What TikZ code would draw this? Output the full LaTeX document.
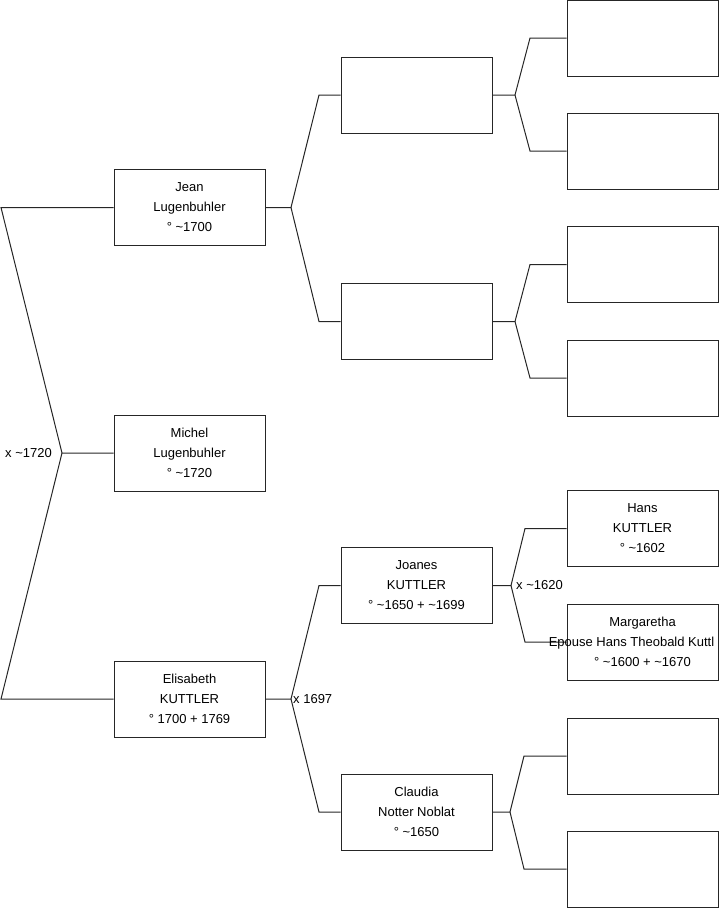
\documentclass[tikz,border=0pt]{standalone}
\usepackage{fontspec}
\setmainfont{Liberation Sans}
\usetikzlibrary{backgrounds}
\begin{document}
\begin{tikzpicture}[x=1pt, y=-1pt, line width=1pt,
		personne/.style={draw=black!85, fill=white, minimum width=151, minimum height=76, inner sep=0, align=center, font=\fontsize{13}{20}\selectfont},
		lien/.style={draw=black!85, line width=1pt},
		union/.style={inner sep=0, font=\fontsize{13}{20}\selectfont}]
	\clip (0,0) rectangle (719,908);
	
	% ================= personnes =================
	\node[personne] (jean) at (189.5,207.5) {Jean\\Lugenbuhler\\° \textasciitilde1700};
	\node[personne] (michel) at (189.5,453) {Michel\\Lugenbuhler\\° \textasciitilde1720};
	\node[personne] (elisabeth) at (189.5,699) {Elisabeth\\KUTTLER\\° 1700 + 1769};
	
	\node[personne] (p1) at (416.5,95) {};
	\node[personne] (p2) at (416.5,321.5) {};
	\node[personne] (joanes) at (416.5,585.5) {Joanes\\KUTTLER\\° \textasciitilde1650 + \textasciitilde1699};
	\node[personne] (claudia) at (416.5,812) {Claudia\\Notter Noblat\\° \textasciitilde1650};
	
	\node[personne] (g1) at (642.5,38) {};
	\node[personne] (g2) at (642.5,151) {};
	\node[personne] (g3) at (642.5,264.5) {};
	\node[personne] (g4) at (642.5,378) {};
	\node[personne] (hans) at (642.5,528.5) {Hans\\KUTTLER\\° \textasciitilde1602};
	% le texte du milieu deborde du cadre
	\node[personne] (margaretha) at (642.5,642) {Margaretha\\\makebox[0pt]{Epouse Hans Theobald Kuttl\hspace*{22pt}}\\° \textasciitilde1600 + \textasciitilde1670};
	\node[personne] (c1) at (642.5,756) {};
	\node[personne] (c2) at (642.5,869) {};
	
	% ================= embranchements =================
	% couple Jean x Elisabeth
	\coordinate (f0) at (62,453);
	\coordinate (k0a) at (1,207.5);
	\coordinate (k0b) at (1,699);
	% parents de Jean
	\coordinate (fj) at (291,207.5);
	\coordinate (kja) at (319,95);
	\coordinate (kjb) at (319,321.5);
	% parents d'Elisabeth
	\coordinate (fe) at (291,699);
	\coordinate (kea) at (319,585.5);
	\coordinate (keb) at (319,812);
	% troisieme generation
	\coordinate (fp1) at (515,95);
	\coordinate (kp1a) at (530,38);
	\coordinate (kp1b) at (530,151);
	\coordinate (fp2) at (515,321.5);
	\coordinate (kp2a) at (530,264.5);
	\coordinate (kp2b) at (530,378);
	\coordinate (fjo) at (511,585.5);
	\coordinate (kjoa) at (525,528.5);
	\coordinate (kjob) at (525,642);
	\coordinate (fcl) at (510,812);
	\coordinate (kcla) at (524,756);
	\coordinate (kclb) at (524,869);
	
	\begin{pgfonlayer}{background}
	\draw[lien] (jean.west) -- (k0a) -- (f0) -- (michel.west);
	\draw[lien] (elisabeth.west) -- (k0b) -- (f0);
	
	\draw[lien] (jean.east) -- (fj) -- (kja) -- (p1.west);
	\draw[lien] (fj) -- (kjb) -- (p2.west);
	\draw[lien] (elisabeth.east) -- (fe) -- (kea) -- (joanes.west);
	\draw[lien] (fe) -- (keb) -- (claudia.west);
	
	\draw[lien] (p1.east) -- (fp1) -- (kp1a) -- (g1.west);
	\draw[lien] (fp1) -- (kp1b) -- (g2.west);
	\draw[lien] (p2.east) -- (fp2) -- (kp2a) -- (g3.west);
	\draw[lien] (fp2) -- (kp2b) -- (g4.west);
	\draw[lien] (joanes.east) -- (fjo) -- (kjoa) -- (hans.west);
	\draw[lien] (fjo) -- (kjob) -- (margaretha.west);
	\draw[lien] (claudia.east) -- (fcl) -- (kcla) -- (c1.west);
	\draw[lien] (fcl) -- (kclb) -- (c2.west);
	\end{pgfonlayer}
	
	% ================= dates de mariage =================
	\node[union, anchor=east] (m0) at (52,453) {x \textasciitilde1720};
	\node[union, anchor=west] (m1) at (293,699) {x 1697};
	\node[union, anchor=west] (m2) at (516,585.5) {x \textasciitilde1620};
\end{tikzpicture}
\end{document}
